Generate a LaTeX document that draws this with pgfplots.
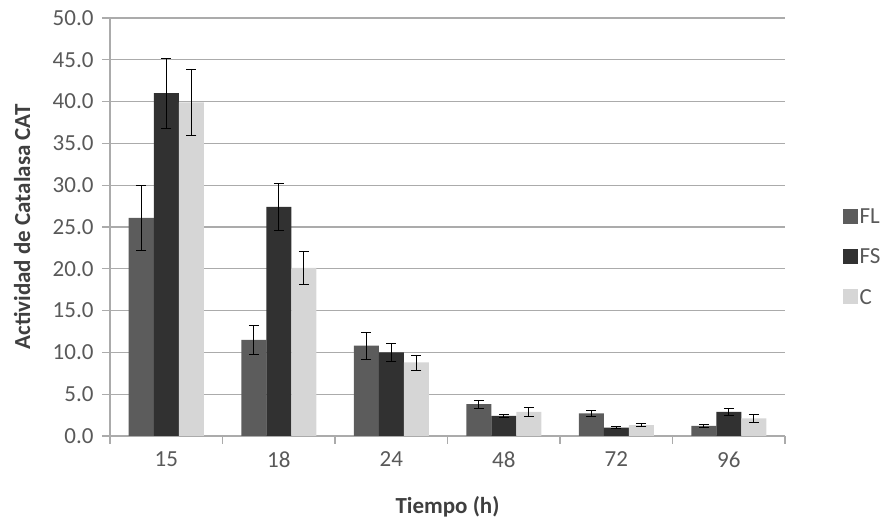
\documentclass[border=0pt]{standalone}
\usepackage{fontspec}
\setmainfont{Carlito}
\usepackage{pgfplots}
\usepackage{pgfplotstable}
\pgfplotsset{compat=1.18}

\definecolor{flcol}{HTML}{5C5C5C}
\definecolor{fscol}{HTML}{313131}
\definecolor{ccol}{HTML}{D6D6D6}
\definecolor{gridgray}{HTML}{ABABAB}
\definecolor{ticktext}{HTML}{595959}
\definecolor{labeltext}{HTML}{3F3F3F}

% tiempo (h): 15 18 24 48 72 96 -> posiciones 0..5
\pgfplotstableread{
x FL FLe FS FSe C Ce
0 26.1 3.9 41.0 4.2 39.9 4.0
1 11.5 1.7 27.4 2.8 20.1 2.0
2 10.8 1.6 10.0 1.1 8.8 0.9
3 3.8 0.5 2.4 0.2 2.9 0.5
4 2.7 0.4 1.0 0.1 1.3 0.2
5 1.2 0.15 2.9 0.4 2.1 0.5
}\datatable

\begin{document}
\begin{tikzpicture}
\path[use as bounding box] (0,0) rectangle (884pt,519pt);
\begin{axis}[
    at={(110pt,83pt)}, anchor=south west,
    scale only axis, width=675pt, height=418pt,
    ybar=0pt, bar width=25pt,
    xmin=-0.5, xmax=5.5, ymin=0, ymax=50,
    ytick={0,5,...,50},
    xtick={-0.5,0.5,...,5.5}, xticklabels={15,18,24,48,72,96},
    x tick label as interval,
    axis x line*=bottom, axis y line*=left,
    x axis line style={gridgray, line width=1.2pt},
    y axis line style={gridgray, line width=1.2pt},
    ymajorgrids, grid style={gridgray, line width=1.2pt},
    tick align=outside,
    major tick length=8pt,
    tick style={gridgray, line width=1.2pt},
    /pgf/number format/assume math mode=true,
    tick label style={font=\fontsize{23}{27}\selectfont, color=ticktext},
    xticklabel style={yshift=-4pt},
    yticklabel style={xshift=-5pt, /pgf/number format/.cd, fixed, fixed zerofill, precision=1},
    xlabel={Tiempo (h)}, ylabel={Actividad de Catalasa CAT},
    label style={font=\fontsize{23}{27}\selectfont\bfseries, color=labeltext},
    xlabel style={at={(axis description cs:0.5,0)}, anchor=center, yshift=-71pt},
    ylabel style={at={(axis description cs:0,0.5)}, anchor=center, yshift=88pt},
    legend style={draw=none, fill=none, at={(1.085,0.428)}, anchor=west,
        font=\fontsize{23}{27}\selectfont, text=ticktext,
        row sep=20pt, legend cell align=left, inner sep=0pt},
    legend image code/.code={\fill[#1] (0pt,-7pt) rectangle (15pt,8pt);},
    error bars/error bar style={black, line width=0.8pt},
    error bars/error mark options={rotate=90, mark size=5pt, black, line width=0.8pt},
]
\addplot[fill=flcol, draw=none, error bars/.cd, y dir=both, y explicit]
    table[x=x, y=FL, y error=FLe] {\datatable};
\addplot[fill=fscol, draw=none, error bars/.cd, y dir=both, y explicit]
    table[x=x, y=FS, y error=FSe] {\datatable};
\addplot[fill=ccol, draw=none, error bars/.cd, y dir=both, y explicit]
    table[x=x, y=C, y error=Ce] {\datatable};
\legend{FL,FS,C}
\end{axis}
\end{tikzpicture}
\end{document}
